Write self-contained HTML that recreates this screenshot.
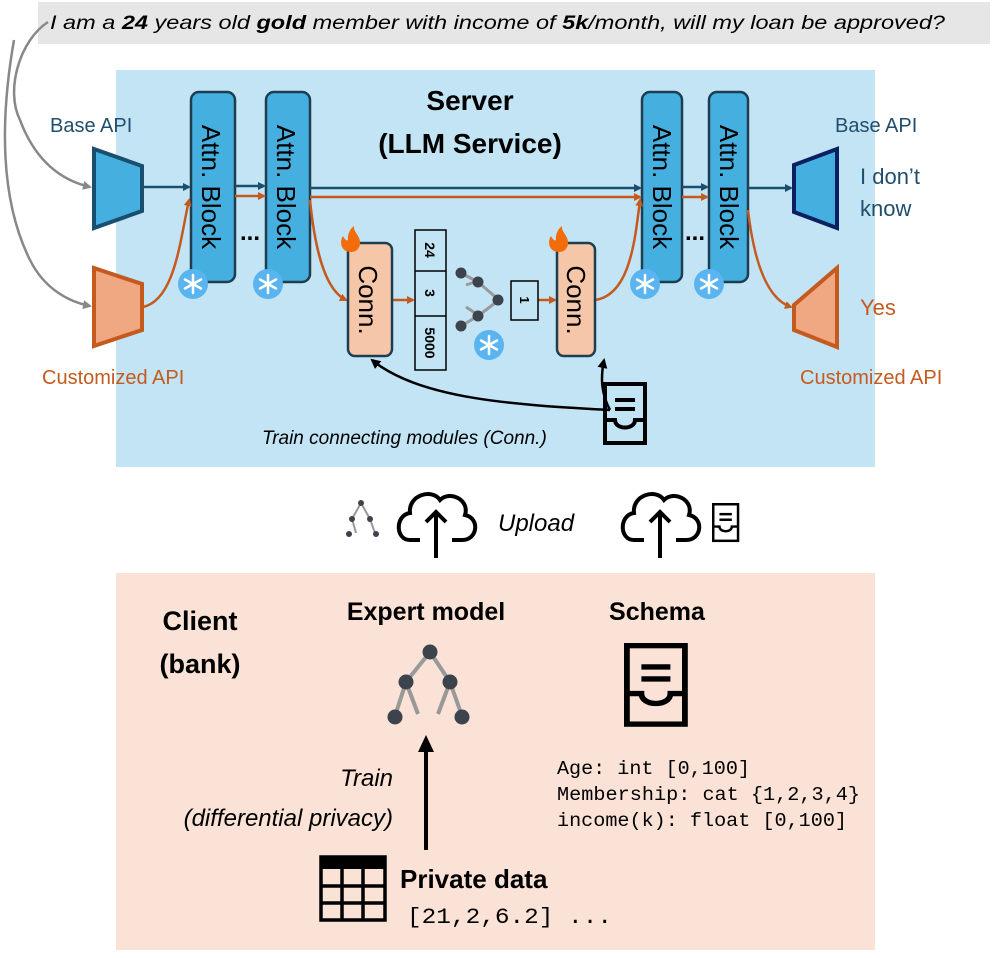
<!DOCTYPE html>
<html><head><meta charset="utf-8"><style>
html,body{margin:0;padding:0;background:#fff}
svg{display:block}
text{font-family:"Liberation Sans",sans-serif}
.mono{font-family:"Liberation Mono",monospace}
</style></head><body>
<svg width="997" height="958" viewBox="0 0 997 958" xmlns="http://www.w3.org/2000/svg">
<defs>
<marker id="ab" markerWidth="8" markerHeight="8" refX="6" refY="4" orient="auto" markerUnits="userSpaceOnUse"><path d="M0,0 L8,4 L0,8 z" fill="#1a4e6e"/></marker>
<marker id="ao" markerWidth="8" markerHeight="8" refX="6" refY="4" orient="auto" markerUnits="userSpaceOnUse"><path d="M0,0 L8,4 L0,8 z" fill="#c55a1e"/></marker>
<marker id="ag" markerWidth="9" markerHeight="9" refX="7" refY="4.5" orient="auto" markerUnits="userSpaceOnUse"><path d="M0,0 L9,4.5 L0,9 z" fill="#888"/></marker>
<marker id="ak" markerWidth="10" markerHeight="10" refX="8" refY="5" orient="auto" markerUnits="userSpaceOnUse"><path d="M0,0 L10,5 L0,10 z" fill="#000"/></marker>
<g id="snow"><circle r="15" fill="#5ab4f0"/><g stroke="#fff" stroke-width="2.5" stroke-linecap="round"><line x1="0" y1="-9" x2="0" y2="9"/><line x1="-8" y1="-4.5" x2="8" y2="4.5"/><line x1="-8" y1="4.5" x2="8" y2="-4.5"/></g></g>
<g id="flame"><path d="M0,12 C-10,12 -12,2 -8,-4 C-6,0 -4,1 -3,0 C-4,-6 0,-12 3,-14 C2,-8 10,-4 9,4 C8,10 4,12 0,12z" fill="#f36c0c"/></g>
<g id="schema"><rect x="2" y="2" width="40" height="59" fill="none" stroke="#000" stroke-width="4"/><line x1="12" y1="18" x2="32" y2="18" stroke="#000" stroke-width="4"/><line x1="12" y1="27" x2="32" y2="27" stroke="#000" stroke-width="4"/><path d="M2,38 H12 C12,48 32,48 32,38 H42" fill="none" stroke="#000" stroke-width="4"/></g>
</defs>

<rect x="38" y="2" width="952" height="42" fill="#e6e6e6"/>
<text x="50" y="29" font-size="19" font-style="italic" textLength="895" lengthAdjust="spacingAndGlyphs">I am a <tspan font-weight="bold">24</tspan> years old <tspan font-weight="bold">gold</tspan> member with income of <tspan font-weight="bold">5k</tspan>/month, will my loan be approved?</text>

<rect x="116" y="70" width="759" height="397" fill="#c2e4f4"/>
<text x="470" y="110" font-size="28" font-weight="bold" text-anchor="middle">Server</text>
<text x="470" y="153" font-size="28" font-weight="bold" text-anchor="middle">(LLM Service)</text>

<path d="M48,22 C20,40 5,90 20,120 C35,160 60,180 90,187" fill="none" stroke="#888" stroke-width="2.5" marker-end="url(#ag)"/>
<path d="M14,40 C0,120 0,200 30,260 C45,290 70,302 90,306" fill="none" stroke="#888" stroke-width="2.5" marker-end="url(#ag)"/>

<text x="50" y="132" font-size="20" fill="#1f4e6e">Base API</text>
<polygon points="94,149 142,166 142,211 94,228" fill="#45b0e0" stroke="#1a4e6e" stroke-width="4"/>
<polygon points="94,268 142,284 142,330 94,346" fill="#f0a882" stroke="#c55a1e" stroke-width="4"/>
<text x="42" y="384" font-size="20" fill="#c55a1e">Customized API</text>

<rect x="191" y="92" width="44" height="190" rx="8" fill="#45afdf" stroke="#1e3d4f" stroke-width="2.5"/>
<rect x="266" y="92" width="44" height="190" rx="8" fill="#45afdf" stroke="#1e3d4f" stroke-width="2.5"/>
<text transform="translate(202,187) rotate(90)" font-size="26" text-anchor="middle">Attn. Block</text>
<text transform="translate(277,187) rotate(90)" font-size="26" text-anchor="middle">Attn. Block</text>
<text x="250" y="240" font-size="24" font-weight="bold" text-anchor="middle">...</text>
<use href="#snow" x="193" y="284"/><use href="#snow" x="268" y="284"/>

<rect x="642" y="92" width="40" height="190" rx="8" fill="#45afdf" stroke="#1e3d4f" stroke-width="2.5"/>
<rect x="709" y="92" width="39" height="190" rx="8" fill="#45afdf" stroke="#1e3d4f" stroke-width="2.5"/>
<text transform="translate(653,187) rotate(90)" font-size="26" text-anchor="middle">Attn. Block</text>
<text transform="translate(720,187) rotate(90)" font-size="26" text-anchor="middle">Attn. Block</text>
<text x="695" y="240" font-size="24" font-weight="bold" text-anchor="middle">...</text>
<use href="#snow" x="645" y="284"/><use href="#snow" x="709" y="284"/>

<g stroke="#1a4e6e" stroke-width="2.5" fill="none">
<line x1="143" y1="187" x2="189" y2="187" marker-end="url(#ab)"/>
<line x1="235" y1="186" x2="264" y2="186" marker-end="url(#ab)"/>
<line x1="310" y1="188" x2="640" y2="188" marker-end="url(#ab)"/>
<line x1="682" y1="187" x2="707" y2="187" marker-end="url(#ab)"/>
<line x1="748" y1="188" x2="791" y2="188" marker-end="url(#ab)"/>
</g>
<g stroke="#c55a1e" stroke-width="2.5" fill="none">
<path d="M143,307 C175,300 180,240 189,200" marker-end="url(#ao)"/>
<line x1="235" y1="196" x2="264" y2="196" marker-end="url(#ao)"/>
<line x1="310" y1="197" x2="640" y2="197" marker-end="url(#ao)"/>
<path d="M310,200 C315,250 325,290 346,300" marker-end="url(#ao)"/>
<line x1="392" y1="300" x2="413" y2="300" marker-end="url(#ao)"/>
<line x1="538" y1="300" x2="555" y2="300" marker-end="url(#ao)"/>
<path d="M595,300 C630,295 635,240 640,200" marker-end="url(#ao)"/>
<line x1="682" y1="197" x2="707" y2="197" marker-end="url(#ao)"/>
<path d="M748,210 C755,270 770,300 791,307" marker-end="url(#ao)"/>
</g>

<rect x="348" y="243" width="44" height="113" rx="7" fill="#f5c6a8" stroke="#1e3d4f" stroke-width="2.5"/>
<text transform="translate(359,300) rotate(90)" font-size="26" text-anchor="middle">Conn.</text>
<use href="#flame" x="351" y="240"/>
<rect x="557" y="243" width="38" height="113" rx="7" fill="#f5c6a8" stroke="#1e3d4f" stroke-width="2.5"/>
<text transform="translate(567,300) rotate(90)" font-size="26" text-anchor="middle">Conn.</text>
<use href="#flame" x="559" y="240"/>

<rect x="415" y="230" width="31" height="140" fill="#c2e4f4" stroke="#000" stroke-width="1.5"/>
<line x1="415" y1="271" x2="446" y2="271" stroke="#000" stroke-width="1.5"/>
<line x1="415" y1="316" x2="446" y2="316" stroke="#000" stroke-width="1.5"/>
<text transform="translate(425,250) rotate(90)" font-size="14" font-weight="bold" text-anchor="middle">24</text>
<text transform="translate(425,293) rotate(90)" font-size="14" font-weight="bold" text-anchor="middle">3</text>
<text transform="translate(425,343) rotate(90)" font-size="14" font-weight="bold" text-anchor="middle">5000</text>
<g stroke="#999" stroke-width="3"><line x1="461" y1="273" x2="478" y2="282"/><line x1="466" y1="285" x2="478" y2="281"/><line x1="478" y1="282" x2="499" y2="300"/><line x1="478" y1="316" x2="499" y2="300"/><line x1="466" y1="307" x2="478" y2="315"/><line x1="461" y1="326" x2="478" y2="316"/></g>
<g fill="#3d434c"><circle cx="461" cy="273" r="5.5"/><circle cx="478" cy="282" r="5.5"/><circle cx="498" cy="300" r="5.5"/><circle cx="478" cy="316" r="5.5"/><circle cx="461" cy="326" r="5.5"/></g>
<use href="#snow" x="489" y="345"/>
<rect x="511" y="281" width="27" height="39" fill="#c2e4f4" stroke="#000" stroke-width="1.5"/>
<text transform="translate(520,300) rotate(90)" font-size="13" font-weight="bold" text-anchor="middle">1</text>

<use href="#schema" x="603" y="382"/>
<path d="M610,410 C520,405 420,400 372,360" fill="none" stroke="#000" stroke-width="2.5" marker-end="url(#ak)"/>
<path d="M610,410 C602,395 600,380 604,360" fill="none" stroke="#000" stroke-width="2.5" marker-end="url(#ak)"/>
<text x="262" y="444" font-size="19" font-style="italic">Train connecting modules (Conn.)</text>

<polygon points="794,165 837,149 837,228 794,212" fill="#45b0e0" stroke="#0a2060" stroke-width="4"/>
<polygon points="794,305 837,268 837,347 794,330" fill="#f0a882" stroke="#c55a1e" stroke-width="4"/>
<text x="835" y="132" font-size="20" fill="#1f4e6e">Base API</text>
<text x="860" y="184" font-size="22" fill="#1f4e6e">I don’t</text>
<text x="860" y="216" font-size="22" fill="#1f4e6e">know</text>
<text x="860" y="315" font-size="22" fill="#c55a1e">Yes</text>
<text x="800" y="384" font-size="20" fill="#c55a1e">Customized API</text>

<g stroke="#999" stroke-width="2"><line x1="361" y1="503" x2="352" y2="519"/><line x1="361" y1="503" x2="370" y2="519"/><line x1="352" y1="519" x2="356" y2="533"/><line x1="370" y1="519" x2="375" y2="533"/></g>
<g fill="#3d434c"><circle cx="361" cy="503" r="3"/><circle cx="352" cy="519" r="3"/><circle cx="370" cy="519" r="3"/><circle cx="349" cy="534" r="3"/><circle cx="376" cy="534" r="3"/></g>
<g fill="none" stroke="#000" stroke-width="4">
<path d="M420,540 H410 C395,540 395,515 410,513 C408,495 432,488 440,500 C450,490 470,500 465,515 C480,518 478,540 462,540 H452"/>
<line x1="436" y1="558" x2="436" y2="512"/><path d="M426,522 L436,512 L446,522"/>
<path d="M644,540 H634 C619,540 619,515 634,513 C632,495 656,488 664,500 C674,490 694,500 689,515 C704,518 702,540 686,540 H676"/>
<line x1="660" y1="558" x2="660" y2="512"/><path d="M650,522 L660,512 L670,522"/>
</g>
<text x="498" y="531" font-size="24" font-style="italic">Upload</text>
<g transform="translate(712,503) scale(0.62)"><use href="#schema"/></g>

<rect x="116" y="573" width="759" height="377" fill="#fbe2d6"/>
<text x="200" y="630" font-size="27" font-weight="bold" text-anchor="middle">Client</text>
<text x="200" y="673" font-size="27" font-weight="bold" text-anchor="middle">(bank)</text>
<text x="426" y="620" font-size="25" font-weight="bold" text-anchor="middle">Expert model</text>
<text x="657" y="620" font-size="25" font-weight="bold" text-anchor="middle">Schema</text>
<g stroke="#999" stroke-width="4"><line x1="430" y1="652" x2="406" y2="682"/><line x1="430" y1="652" x2="450" y2="682"/><line x1="406" y1="682" x2="418" y2="714"/><line x1="450" y1="682" x2="438" y2="714"/><line x1="406" y1="682" x2="395" y2="716"/><line x1="450" y1="682" x2="462" y2="716"/></g>
<g fill="#3d434c"><circle cx="430" cy="652" r="7.5"/><circle cx="406" cy="682" r="7.5"/><circle cx="450" cy="682" r="7.5"/><circle cx="395" cy="717" r="7.5"/><circle cx="462" cy="717" r="7.5"/></g>
<use href="#schema" transform="translate(624,643) scale(1.45,1.33)"/>
<line x1="426" y1="850" x2="426" y2="750" stroke="#000" stroke-width="4"/>
<path d="M418,752 L426,735 L434,752 z" fill="#000"/>
<text x="393" y="786" font-size="24" font-style="italic" text-anchor="end">Train</text>
<text x="393" y="826" font-size="24" font-style="italic" text-anchor="end">(differential privacy)</text>
<text class="mono" x="557" y="774" font-size="19" textLength="193" lengthAdjust="spacingAndGlyphs">Age: int [0,100]</text>
<text class="mono" x="557" y="800" font-size="19" textLength="303" lengthAdjust="spacingAndGlyphs">Membership: cat {1,2,3,4}</text>
<text class="mono" x="557" y="826" font-size="19" textLength="290" lengthAdjust="spacingAndGlyphs">income(k): float [0,100]</text>
<rect x="321" y="857" width="64" height="63" fill="none" stroke="#000" stroke-width="3.5"/>
<rect x="321" y="857" width="64" height="12" fill="#000"/>
<g stroke="#000" stroke-width="3.5"><line x1="342" y1="869" x2="342" y2="920"/><line x1="363" y1="869" x2="363" y2="920"/><line x1="321" y1="886" x2="385" y2="886"/><line x1="321" y1="903" x2="385" y2="903"/></g>
<text x="400" y="888" font-size="26" font-weight="bold">Private data</text>
<text class="mono" x="407" y="923" font-size="22" textLength="205" lengthAdjust="spacingAndGlyphs">[21,2,6.2]  ...</text>
</svg>
</body></html>
